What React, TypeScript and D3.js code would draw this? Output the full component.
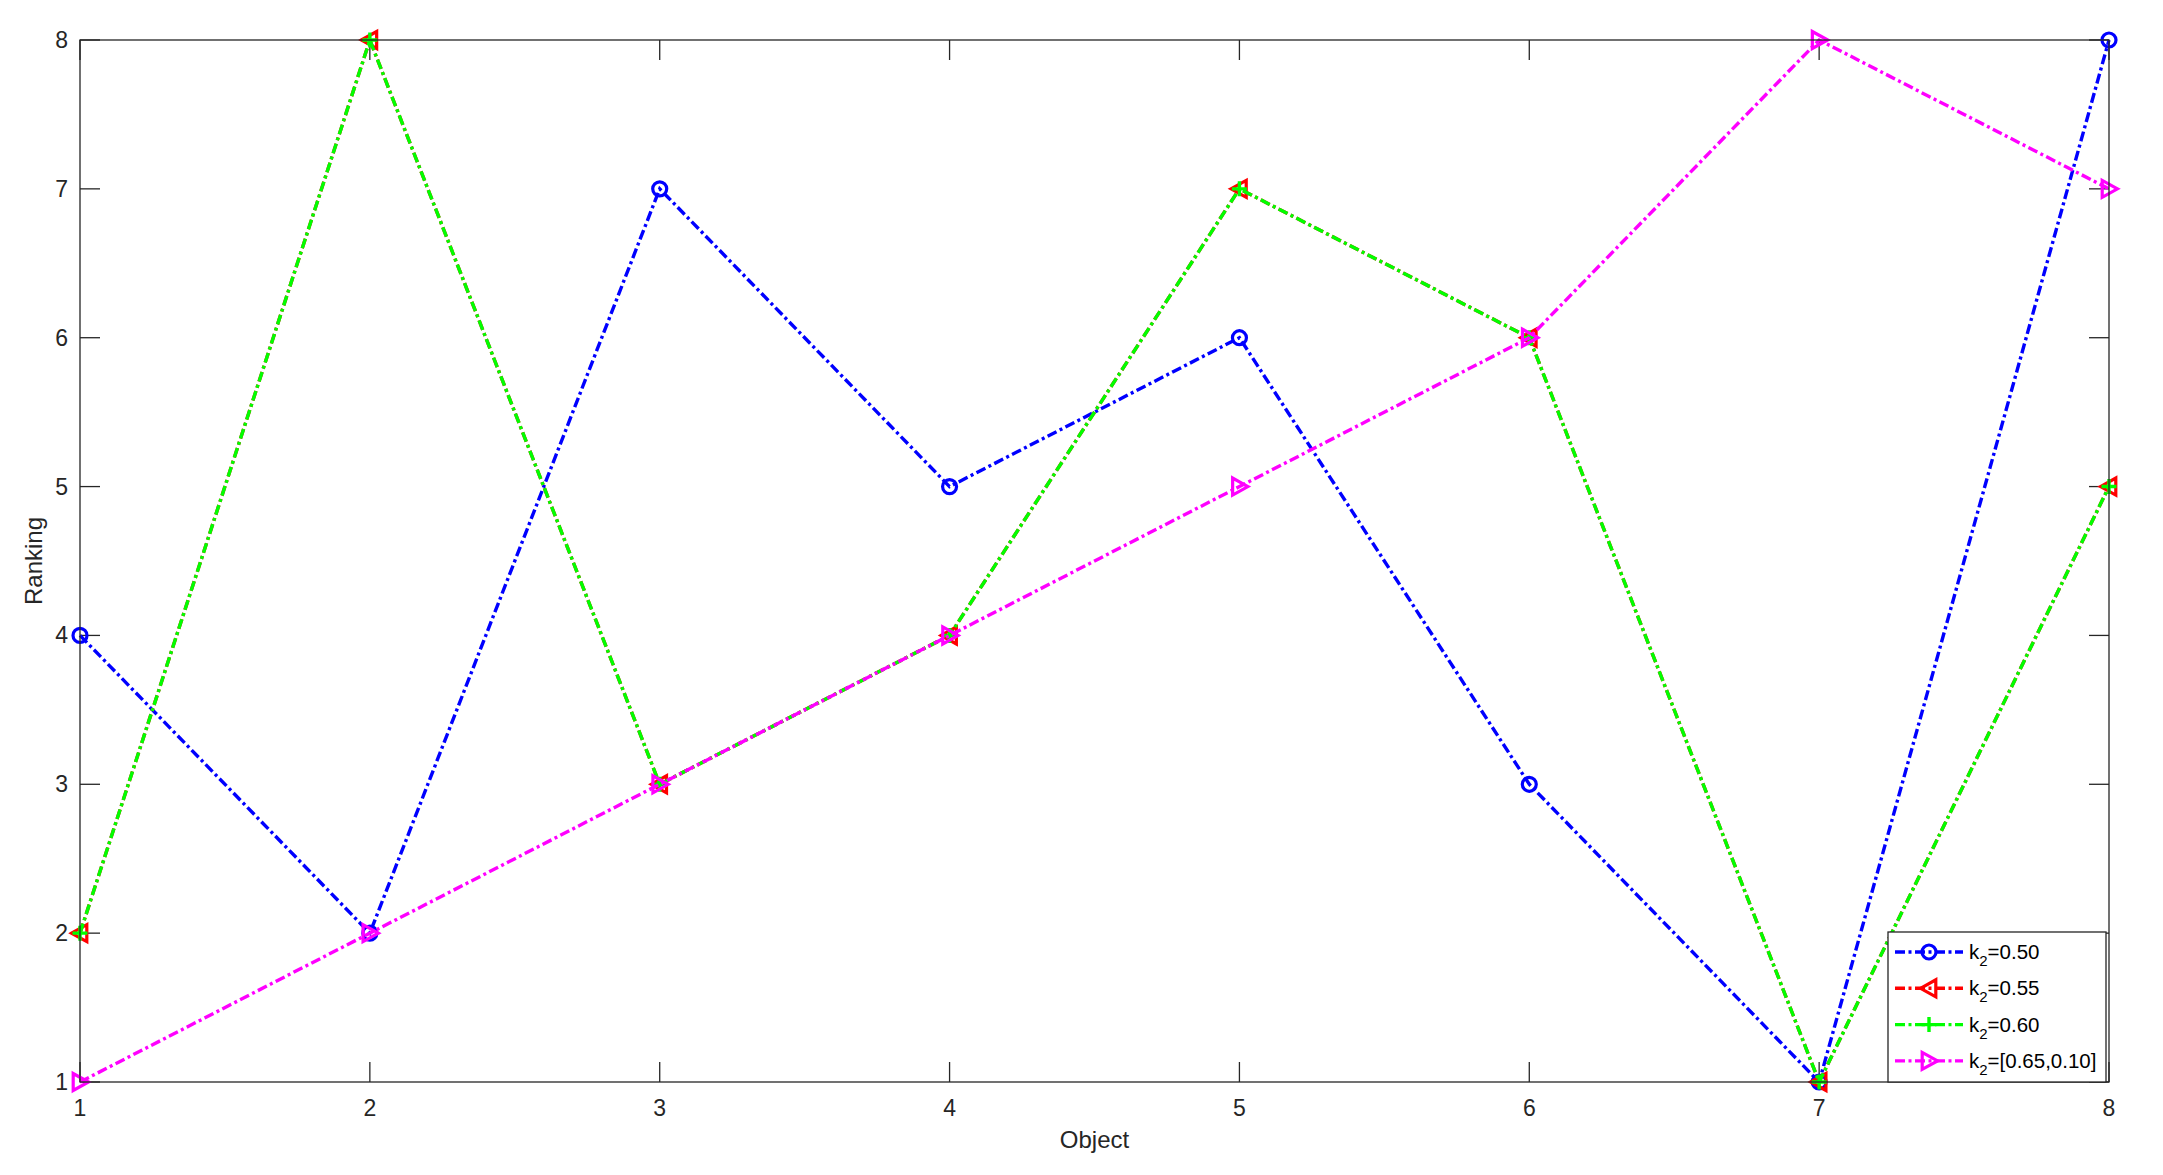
import React, { useEffect, useRef } from 'react';
import * as d3 from 'd3';

const objects = [1, 2, 3, 4, 5, 6, 7, 8];
const rankK050 = [4, 2, 7, 5, 6, 3, 1, 8];
const rankK055 = [2, 8, 3, 4, 7, 6, 1, 5];
const rankK060 = [2, 8, 3, 4, 7, 6, 1, 5];
const rankK065 = [1, 2, 3, 4, 5, 6, 8, 7];
const yTicks = [1, 2, 3, 4, 5, 6, 7, 8];
const legendLabels = ['=0.50', '=0.55', '=0.60', '=[0.65,0.10]'];

type MarkerKind = 'circle' | 'left' | 'plus' | 'right';

interface Series {
    values: number[];
    color: string;
    marker: MarkerKind;
    label: string;
}

const seriesList: Series[] = [
    { values: rankK050, color: '#0000ff', marker: 'circle', label: legendLabels[0] },
    { values: rankK055, color: '#ff0000', marker: 'left', label: legendLabels[1] },
    { values: rankK060, color: '#00ff00', marker: 'plus', label: legendLabels[2] },
    { values: rankK065, color: '#ff00ff', marker: 'right', label: legendLabels[3] },
];

const WIDTH = 2163;
const HEIGHT = 1175;
const FONT = '"Liberation Sans", Arial, Helvetica, sans-serif';
const AXIS_COLOR = '#262626';
const LINE_W = 3.4;
const DASH = '10,3.5,3,3.5';

// draw one marker centred on (cx, cy)
function drawMarker(g: d3.Selection<SVGGElement, unknown, null, undefined>, kind: MarkerKind, cx: number, cy: number, color: string) {
    if (kind === 'circle') {
        g.append('circle')
            .attr('cx', cx)
            .attr('cy', cy)
            .attr('r', 7)
            .attr('fill', 'none')
            .attr('stroke', color)
            .attr('stroke-width', 3.2);
    } else if (kind === 'plus') {
        g.append('path')
            .attr('d', `M${cx - 7.5},${cy}H${cx + 7.5}M${cx},${cy - 7.5}V${cy + 7.5}`)
            .attr('fill', 'none')
            .attr('stroke', color)
            .attr('stroke-width', 3.4);
    } else {
        const s = 8.5;
        const d = kind === 'left'
            ? `M${cx - s},${cy}L${cx + s * 0.8},${cy - s}L${cx + s * 0.8},${cy + s}Z`
            : `M${cx + s},${cy}L${cx - s * 0.8},${cy - s}L${cx - s * 0.8},${cy + s}Z`;
        g.append('path')
            .attr('d', d)
            .attr('fill', 'none')
            .attr('stroke', color)
            .attr('stroke-width', 3.2)
            .attr('stroke-linejoin', 'miter');
    }
}

const RankingChart: React.FC = () => {
    const svgRef = useRef<SVGSVGElement | null>(null);

    useEffect(() => {
        if (!svgRef.current) return;
        const svg = d3.select(svgRef.current);
        svg.selectAll('*').remove();

        const left = 80, right = 2109, top = 40, bottom = 1082;

        const xScale = d3.scaleLinear().domain([1, 8]).range([left, right]);
        const yScale = d3.scaleLinear().domain([1, 8]).range([bottom, top]);

        svg.append('rect')
            .attr('width', WIDTH)
            .attr('height', HEIGHT)
            .attr('fill', '#ffffff');

        // inward ticks on all four sides
        const tickLen = 20;
        const ticks = svg.append('g').attr('stroke', AXIS_COLOR).attr('stroke-width', 1.3);
        objects.forEach(v => {
            const x = xScale(v);
            ticks.append('line').attr('x1', x).attr('x2', x).attr('y1', bottom).attr('y2', bottom - tickLen);
            ticks.append('line').attr('x1', x).attr('x2', x).attr('y1', top).attr('y2', top + tickLen);
        });
        yTicks.forEach(v => {
            const y = yScale(v);
            ticks.append('line').attr('x1', left).attr('x2', left + tickLen).attr('y1', y).attr('y2', y);
            ticks.append('line').attr('x1', right).attr('x2', right - tickLen).attr('y1', y).attr('y2', y);
        });

        // tick labels
        svg.append('g')
            .selectAll('text')
            .data(objects)
            .enter()
            .append('text')
            .attr('x', d => xScale(d))
            .attr('y', bottom + 34)
            .attr('text-anchor', 'middle')
            .attr('font-family', FONT)
            .attr('font-size', 23)
            .attr('fill', AXIS_COLOR)
            .text(d => d);

        svg.append('g')
            .selectAll('text')
            .data(yTicks)
            .enter()
            .append('text')
            .attr('x', left - 12)
            .attr('y', d => yScale(d) + 8)
            .attr('text-anchor', 'end')
            .attr('font-family', FONT)
            .attr('font-size', 23)
            .attr('fill', AXIS_COLOR)
            .text(d => d);

        // axis titles
        svg.append('text')
            .attr('x', (left + right) / 2)
            .attr('y', 1148)
            .attr('text-anchor', 'middle')
            .attr('font-family', FONT)
            .attr('font-size', 24)
            .attr('fill', AXIS_COLOR)
            .text('Object');

        svg.append('text')
            .attr('transform', `translate(42,${(top + bottom) / 2}) rotate(-90)`)
            .attr('text-anchor', 'middle')
            .attr('font-family', FONT)
            .attr('font-size', 24)
            .attr('fill', AXIS_COLOR)
            .text('Ranking');

        // series
        const lineGen = d3.line<number>()
            .x((_, i) => xScale(objects[i]))
            .y(d => yScale(d));

        seriesList.forEach(s => {
            const g = svg.append('g');
            g.append('path')
                .attr('d', lineGen(s.values))
                .attr('fill', 'none')
                .attr('stroke', s.color)
                .attr('stroke-width', LINE_W)
                .attr('stroke-dasharray', DASH);
            s.values.forEach((v, i) => drawMarker(g, s.marker, xScale(objects[i]), yScale(v), s.color));
        });

        // box
        svg.append('rect')
            .attr('x', left)
            .attr('y', top)
            .attr('width', right - left)
            .attr('height', bottom - top)
            .attr('fill', 'none')
            .attr('stroke', AXIS_COLOR)
            .attr('stroke-width', 1.3);

        // legend
        const lg = svg.append('g');
        lg.append('rect')
            .attr('x', 1888)
            .attr('y', 932)
            .attr('width', 218)
            .attr('height', 150)
            .attr('fill', '#ffffff')
            .attr('stroke', AXIS_COLOR)
            .attr('stroke-width', 1.3);

        seriesList.forEach((s, i) => {
            const y = 952 + i * 36.3;
            lg.append('line')
                .attr('x1', 1895)
                .attr('x2', 1963)
                .attr('y1', y)
                .attr('y2', y)
                .attr('stroke', s.color)
                .attr('stroke-width', LINE_W)
                .attr('stroke-dasharray', DASH);
            drawMarker(lg, s.marker, 1929, y, s.color);
            const t = lg.append('text')
                .attr('x', 1969)
                .attr('y', y + 7)
                .attr('font-family', FONT)
                .attr('font-size', 20.5)
                .attr('fill', '#000000');
            t.append('tspan').text('k');
            t.append('tspan').attr('dy', 7).attr('font-size', 15).text('2');
            t.append('tspan').attr('dy', -7).text(s.label);
        });
    }, []);

    return (
        <svg
            ref={svgRef}
            width={WIDTH}
            height={HEIGHT}
            style={{ position: 'absolute', left: 0, top: 0, display: 'block' }}
        />
    );
};

export default function App() {
    return <RankingChart />;
}
